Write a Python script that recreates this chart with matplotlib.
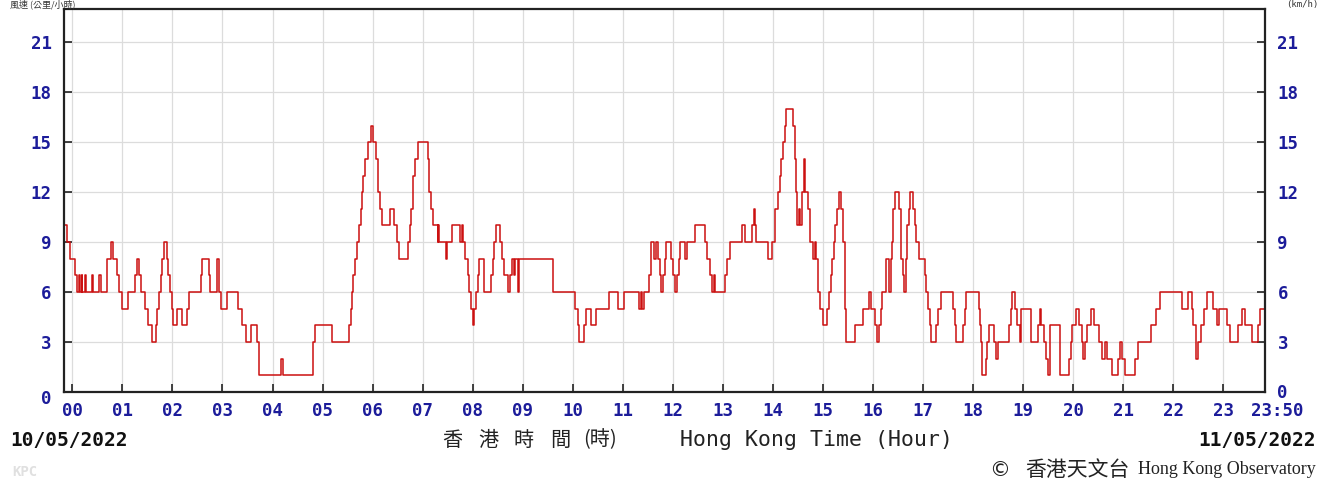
import matplotlib
matplotlib.use("Agg")
import matplotlib.pyplot as plt
import matplotlib.transforms as mtransforms
import numpy as np

# Step change points: minutes since 00:00 on 10/05/2022 and wind speed (km/h)
change_minutes = [
    -10, -6, -3, 3, 5, 8, 9, 11, 12, 15, 16, 23, 25, 32, 34, 41, 46, 49, 54, 56,
    59, 67, 75, 77, 80, 82, 87, 91, 96, 100, 102, 104, 106, 108, 110, 113, 115, 117, 119, 121,
    126, 131, 137, 140, 154, 156, 164, 165, 173, 176, 178, 186, 199, 203, 208, 214, 221, 224, 250, 253,
    288, 289, 291, 311, 332, 334, 335, 337, 339, 341, 344, 346, 347, 349, 351, 355, 358, 361, 364, 366,
    367, 369, 371, 381, 386, 389, 392, 403, 405, 406, 408, 409, 411, 414, 426, 428, 430, 433, 438, 439,
    440, 448, 449, 455, 465, 467, 469, 471, 474, 476, 478, 480, 482, 484, 486, 488, 494, 502, 504, 506,
    508, 513, 515, 518, 522, 525, 527, 529, 531, 534, 536, 576, 603, 606, 608, 614, 616, 622, 628, 644,
    654, 662, 680, 682, 683, 686, 692, 694, 697, 700, 702, 705, 706, 708, 710, 712, 718, 720, 723, 725,
    727, 729, 735, 737, 747, 758, 761, 764, 767, 769, 770, 783, 785, 788, 803, 806, 815, 817, 818, 820,
    834, 839, 842, 843, 846, 848, 850, 852, 854, 856, 864, 866, 868, 869, 871, 872, 875, 877, 879, 882,
    884, 888, 890, 892, 894, 897, 900, 905, 907, 910, 911, 913, 915, 917, 919, 922, 924, 926, 927, 928,
    938, 948, 955, 958, 962, 965, 967, 969, 971, 975, 979, 981, 983, 984, 986, 991, 993, 994, 996, 997,
    999, 1001, 1003, 1004, 1008, 1010, 1012, 1015, 1022, 1024, 1026, 1028, 1030, 1035, 1038, 1042, 1056, 1058, 1060, 1068,
    1070, 1072, 1087, 1088, 1090, 1091, 1095, 1097, 1099, 1105, 1108, 1110, 1123, 1125, 1127, 1130, 1133, 1136, 1138, 1149,
    1158, 1160, 1162, 1165, 1168, 1170, 1172, 1184, 1195, 1197, 1199, 1203, 1207, 1210, 1212, 1214, 1217, 1221, 1225, 1231,
    1235, 1238, 1241, 1246, 1254, 1256, 1259, 1262, 1274, 1278, 1293, 1299, 1304, 1330, 1338, 1342, 1344, 1347, 1350, 1353,
    1357, 1360, 1368, 1373, 1375, 1385, 1388, 1398, 1403, 1406, 1414, 1422, 1424, 1430,
]
change_speeds = [
    10, 9, 8, 7, 6, 7, 6, 7, 6, 7, 6, 7, 6, 7, 6, 8, 9, 8, 7, 6,
    5, 6, 7, 8, 7, 6, 5, 4, 3, 4, 5, 6, 7, 8, 9, 8, 7, 6, 5, 4,
    5, 4, 5, 6, 7, 8, 7, 6, 8, 6, 5, 6, 5, 4, 3, 4, 3, 1, 2, 1,
    2, 3, 4, 3, 4, 5, 6, 7, 8, 9, 10, 11, 12, 13, 14, 15, 16, 15, 14, 13,
    12, 11, 10, 11, 10, 9, 8, 9, 10, 11, 12, 13, 14, 15, 14, 12, 11, 10, 9, 10,
    9, 8, 9, 10, 9, 10, 9, 8, 7, 6, 5, 4, 5, 6, 7, 8, 6, 7, 8, 9,
    10, 9, 8, 7, 6, 7, 8, 7, 8, 6, 8, 6, 5, 4, 3, 4, 5, 4, 5, 6,
    5, 6, 5, 6, 5, 6, 7, 9, 8, 9, 8, 7, 6, 7, 8, 9, 8, 7, 6, 7,
    8, 9, 8, 9, 10, 9, 8, 7, 6, 7, 6, 7, 8, 9, 10, 9, 10, 11, 10, 9,
    8, 9, 10, 11, 12, 13, 14, 15, 16, 17, 16, 14, 12, 10, 11, 10, 12, 14, 12, 11,
    9, 8, 9, 8, 6, 5, 4, 5, 6, 7, 8, 9, 10, 11, 12, 11, 9, 7, 5, 3,
    4, 5, 6, 5, 4, 3, 4, 5, 6, 8, 6, 8, 9, 11, 12, 11, 10, 8, 7, 6,
    8, 10, 11, 12, 11, 10, 9, 8, 7, 6, 5, 4, 3, 4, 5, 6, 5, 4, 3, 4,
    5, 6, 5, 4, 3, 1, 2, 3, 4, 3, 2, 3, 4, 5, 6, 5, 4, 3, 5, 3,
    4, 5, 4, 3, 2, 1, 4, 1, 2, 3, 4, 5, 4, 3, 2, 3, 4, 5, 4, 3,
    2, 3, 2, 1, 2, 3, 2, 1, 2, 3, 4, 5, 6, 5, 6, 5, 4, 2, 3, 4,
    5, 6, 5, 4, 5, 4, 3, 4, 5, 4, 3, 4, 5, 5,
]

hour_labels = ["%02d" % h for h in range(24)] + ["23:50"]
hour_ticks_min = [h * 60 for h in range(24)] + [1430]
y_ticks = [0, 3, 6, 9, 12, 15, 18, 21]
xlabel_zh_chars = ["香", "港", "時", "間", "(時)"]
xlabel_en = "Hong Kong Time (Hour)"

W, H = 1323, 484
fig = plt.figure(figsize=(W / 100, H / 100), dpi=100)
fig.patch.set_facecolor("white")
ax = fig.add_axes([64 / W, (H - 392) / H, (1265 - 64) / W, (392 - 9) / H])

ax.step(change_minutes, change_speeds, where="post", color="#cc1010", lw=1.1)

ax.set_xlim(-10, 1430)
ax.set_ylim(0, 23)
ax.set_xticks(hour_ticks_min)
ax.set_xticklabels(hour_labels)
ax.set_yticks(y_ticks)
ax.set_yticklabels([str(v) for v in y_ticks])

ax.grid(True, color="#dcdcdc", lw=0.9)
ax.set_axisbelow(True)
for s in ax.spines.values():
    s.set_color("#222222")
    s.set_linewidth(1.6)

blue = "#1c1c9a"
ax.tick_params(axis="both", direction="in", length=6, width=1.2, color="#222222",
               labelcolor=blue)
ax.tick_params(axis="y", left=True, right=True, labelleft=True, labelright=True, pad=9)
ax.tick_params(axis="x", top=False, pad=7)

for t in ax.xaxis.get_major_ticks():
    t.label1.set_fontfamily("DejaVu Sans Mono")
    t.label1.set_fontweight("bold")
    t.label1.set_fontsize(12.5)
for t in ax.yaxis.get_major_ticks():
    for lab in (t.label1, t.label2):
        lab.set_fontfamily("DejaVu Sans Mono")
        lab.set_fontweight("bold")
        lab.set_fontsize(12.5)
        lab.set_color(blue)

# last x label (23:50) sits a little to the right of its tick
xt = ax.xaxis.get_major_ticks()
last = xt[-1].label1
last.set_transform(last.get_transform() +
                   mtransforms.ScaledTranslation(12 / 100, 0, fig.dpi_scale_trans))
# the left "0" label sits slightly below the axis line
yt0 = ax.yaxis.get_major_ticks()[0]
yt0.label1.set_transform(yt0.label1.get_transform() +
                         mtransforms.ScaledTranslation(0, -5 / 100, fig.dpi_scale_trans))
yt0.label2.set_transform(yt0.label2.get_transform() +
                         mtransforms.ScaledTranslation(0, 1 / 100, fig.dpi_scale_trans))


def fx(x):
    return x / W


def fy(y):
    return 1 - y / H


# headers squeezed into the thin top margin
fig.text(fx(10), fy(4), "風速 (公里/小時)", fontsize=6.5, color="#333333",
         family=["Noto Sans CJK TC", "DejaVu Sans"], va="center", ha="left")
fig.text(fx(1318), fy(4), "(km/h)", fontsize=6.5, color="#333333",
         family="DejaVu Sans Mono", va="center", ha="right")

fig.text(fx(10), fy(441), "10/05/2022", fontsize=14, fontweight="bold",
         family="DejaVu Sans Mono", color="#111111", va="center", ha="left")
fig.text(fx(1316), fy(441), "11/05/2022", fontsize=14, fontweight="bold",
         family="DejaVu Sans Mono", color="#111111", va="center", ha="right")

zh_centers = [452, 488, 524, 560, 600]
for ch, cx in zip(xlabel_zh_chars, zh_centers):
    fig.text(fx(cx), fy(440), ch, fontsize=14.5,
             family=["Noto Sans CJK TC", "DejaVu Sans"], color="#222222",
             va="center", ha="center")
fig.text(fx(680), fy(440), xlabel_en, fontsize=15.5,
         family="DejaVu Sans Mono", color="#222222", va="center", ha="left")

fig.text(fx(1000), fy(470), "©", fontsize=15, family="DejaVu Sans",
         color="#222222", va="center", ha="center")
fig.text(fx(1077), fy(470), "香港天文台", fontsize=15,
         family=["Noto Sans CJK TC", "DejaVu Sans"], color="#222222",
         va="center", ha="center")
fig.text(fx(1316), fy(470), "Hong Kong Observatory", fontsize=13,
         family="Liberation Serif", color="#222222", va="center", ha="right")
fig.text(fx(12), fy(472), "KPC", fontsize=10, fontweight="bold",
         family="DejaVu Sans Mono", color="#e0e0e0", va="center", ha="left")

fig.savefig("out.png", dpi=100, facecolor="white")
